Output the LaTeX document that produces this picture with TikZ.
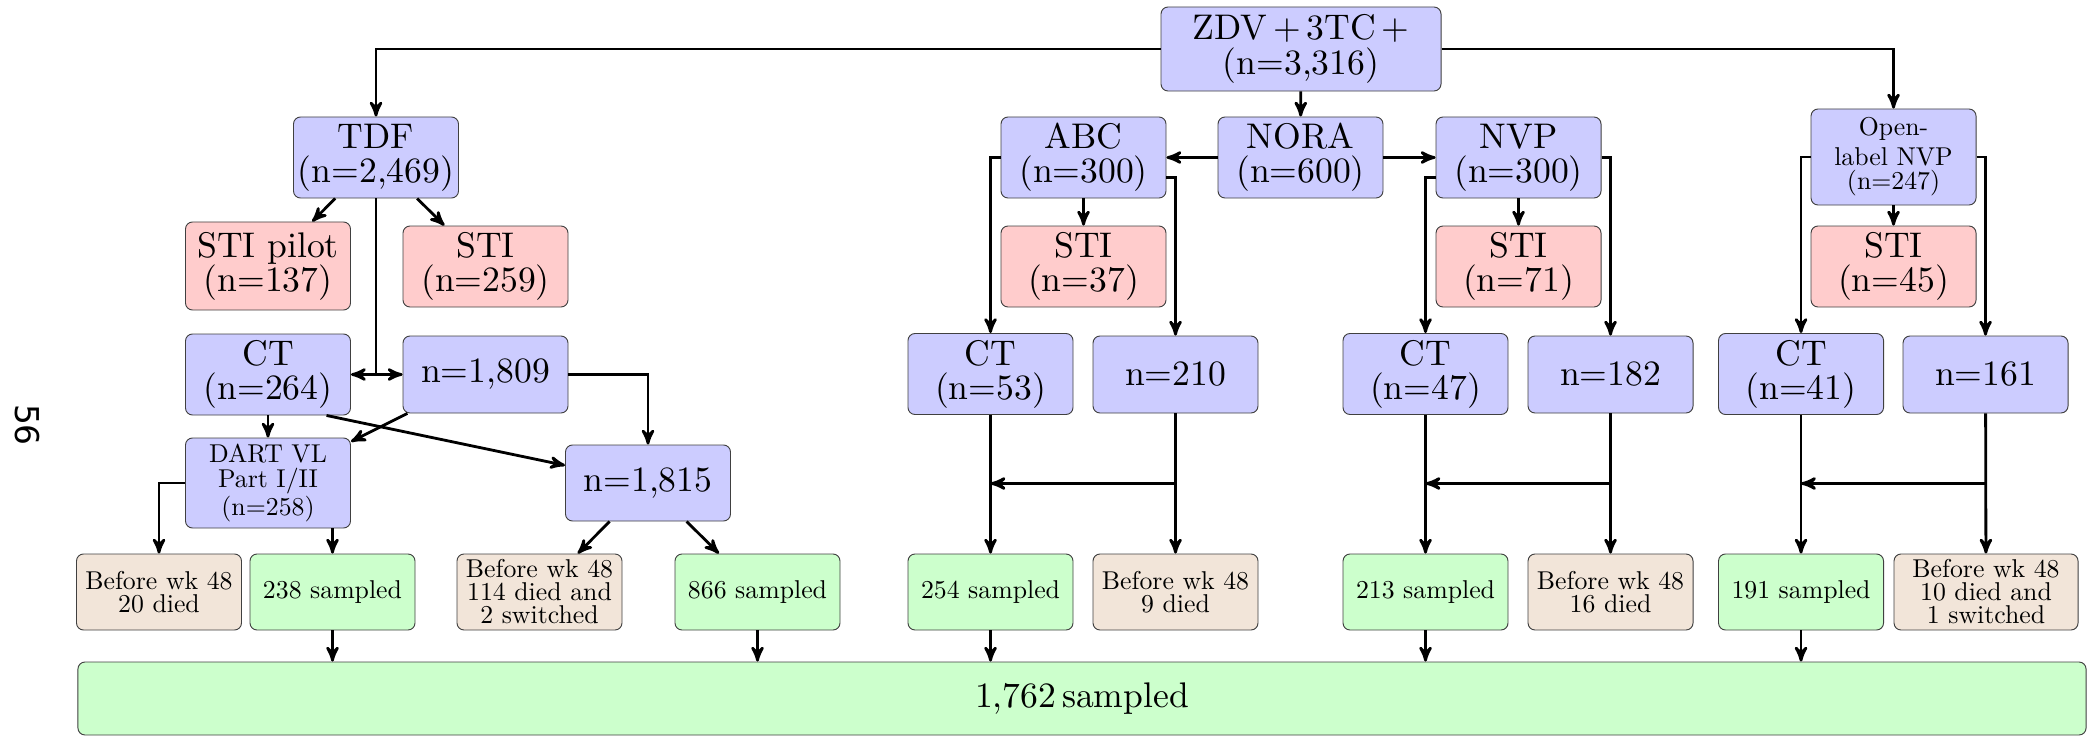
\documentclass[tikz,border=0pt]{standalone}
\usepackage{fontspec}
\setmainfont{lmroman10-regular.otf}
\newfontfamily\pagefont{DejaVu Sans}
\usepackage{tikz}
\usetikzlibrary{arrows, shapes, calc}

\begin{document}
\begin{tikzpicture}[x=0.015cm,y=-0.015cm,->,>=stealth',very thick,
  box/.style={draw=black!75, thin, shape=rectangle, rounded corners=3pt,
    align=center, inner sep=1pt, minimum width=2.475cm},
  bigtext/.style={font=\fontsize{15.2}{14.6}\selectfont},
  smalltext/.style={font=\fontsize{11}{9.8}\selectfont},
  armbox/.style={box, bigtext, fill=blue!20, minimum height=1.215cm},
  stibox/.style={box, bigtext, fill=red!20, minimum height=1.215cm},
  leafbox/.style={box, smalltext, minimum height=1.14cm},
  sampbox/.style={leafbox, fill=green!20},
  lostbox/.style={leafbox, fill=brown!20}]

  \useasboundingbox (0,0) rectangle (2096,736);

  \node[rotate=-90, font=\pagefont\fontsize{14}{16}\selectfont] (pgnum) at (27,425) {56};

  % arms
  \node[armbox, minimum width=4.2cm, minimum height=1.26cm] (zdv) at (1301,49) {ZDV\,+\,3TC\,+\\(n=3,316)};
  \node[armbox] (tdf) at (376,157.5) {TDF\\(n=2,469)};
  \node[armbox] (abc) at (1083.5,157.5) {ABC\\(n=300)};
  \node[armbox] (nora) at (1300.5,157.5) {NORA\\(n=600)};
  \node[armbox] (nvp) at (1518.5,157.5) {NVP\\(n=300)};
  \node[armbox, font=\fontsize{11}{10.5}\selectfont, minimum height=1.44cm] (onvp) at (1893.5,157) {Open-\\[2pt]label NVP\\(n=247)};

  \node[stibox, minimum height=1.32cm] (stip) at (268,266) {STI pilot\\(n=137)};
  \node[stibox] (sti1) at (485.5,266.5) {STI\\(n=259)};
  \node[stibox] (sti2) at (1083.5,266.5) {STI\\(n=37)};
  \node[stibox] (sti3) at (1518.5,266.5) {STI\\(n=71)};
  \node[stibox] (sti4) at (1893.5,266.5) {STI\\(n=45)};

  \node[armbox] (ct1) at (268,374.5) {CT\\(n=264)};
  \node[armbox, minimum height=1.155cm] (n1809) at (485.5,374.5) {n=1,809};
  \node[armbox] (ct53) at (990.5,374) {CT\\(n=53)};
  \node[armbox, minimum height=1.155cm] (n210) at (1175.5,374.5) {n=210};
  \node[armbox] (ct47) at (1425.5,374) {CT\\(n=47)};
  \node[armbox, minimum height=1.155cm] (n182) at (1610.5,374.5) {n=182};
  \node[armbox] (ct41) at (1801,374) {CT\\(n=41)};
  \node[armbox, minimum height=1.155cm] (n161) at (1985.5,374.5) {n=161};

  \node[armbox, font=\fontsize{11}{10.5}\selectfont, minimum height=1.35cm] (dart) at (268,483) {DART VL\\Part I/II\\(n=258)};
  \node[armbox, minimum height=1.14cm] (n1815) at (648,483) {n=1,815};

  % week 48
  \node[lostbox] (b20) at (159,592) {Before wk 48\\20 died};
  \node[sampbox] (s238) at (332.5,592) {238 sampled};
  \node[lostbox] (b114) at (539.5,592) {Before wk 48\\114 died and\\2 switched};
  \node[sampbox] (s866) at (757.5,592) {866 sampled};
  \node[sampbox] (s254) at (990.5,592) {254 sampled};
  \node[lostbox] (b9) at (1175.5,592) {Before wk 48\\9 died};
  \node[sampbox] (s213) at (1425.5,592) {213 sampled};
  \node[lostbox] (b16) at (1610.5,592) {Before wk 48\\16 died};
  \node[sampbox] (s191) at (1801,592) {191 sampled};
  \node[lostbox, minimum width=2.76cm] (b10) at (1986,592) {Before wk 48\\10 died and\\1 switched};

  \node[sampbox, bigtext, minimum width=30.12cm, minimum height=1.095cm] (all) at (1082,698.5) {1,762\,sampled};

  \draw (zdv.west) -| (tdf.north);
  \draw (zdv.east) -| (onvp.north);

  \path
   (zdv) edge (nora)
   (nora) edge (abc)
   (nora) edge (nvp)
   (tdf) edge (stip)
   (tdf) edge (sti1)
   (abc) edge (sti2)
   (nvp) edge (sti3)
   (onvp) edge (sti4)
   (ct1) edge (dart)
   (n1809) edge (dart)
   (ct1.-35) edge (n1815.168)
   (n1815) edge (b114)
   (n1815) edge (s866)
   (ct53) edge (s254)
   (n210) edge (b9)
   (ct47) edge (s213)
   (n182) edge (b16)
   (ct41) edge (s191)
   (n161) edge (b10);

  \coordinate (tj) at (tdf.south |- ct1.east);
  \draw[-] (tdf.south) -- (tj);
  \draw[<->] (ct1) -- (n1809);
  \draw (n1809.east) -| (n1815.north);

  \draw (dart.west) -| (b20.north);
  \draw (dart.south -| s238.north) -- (s238.north);

  \draw (abc.west) -| (ct53.north);
  \draw ([yshift=-0.3cm]abc.east) -| (n210.north);
  \draw ([yshift=-0.3cm]nvp.west) -| (ct47.north);
  \draw (nvp.east) -| (n182.north);
  \draw (onvp.west) -| (ct41.north);
  \draw (onvp.east) -| (n161.north);

  \foreach \a/\b/\c in {n210/b9/ct53, n182/b16/ct47, n161/b10/ct41} {
    \coordinate (m) at ($(\a.south)!0.5!(\b.north)$);
    \draw (m) -- (m -| \c);
  }

  \foreach \s in {s238, s866, s254, s213, s191}
    \draw (\s) -- (\s |- all.north);
\end{tikzpicture}
\end{document}
